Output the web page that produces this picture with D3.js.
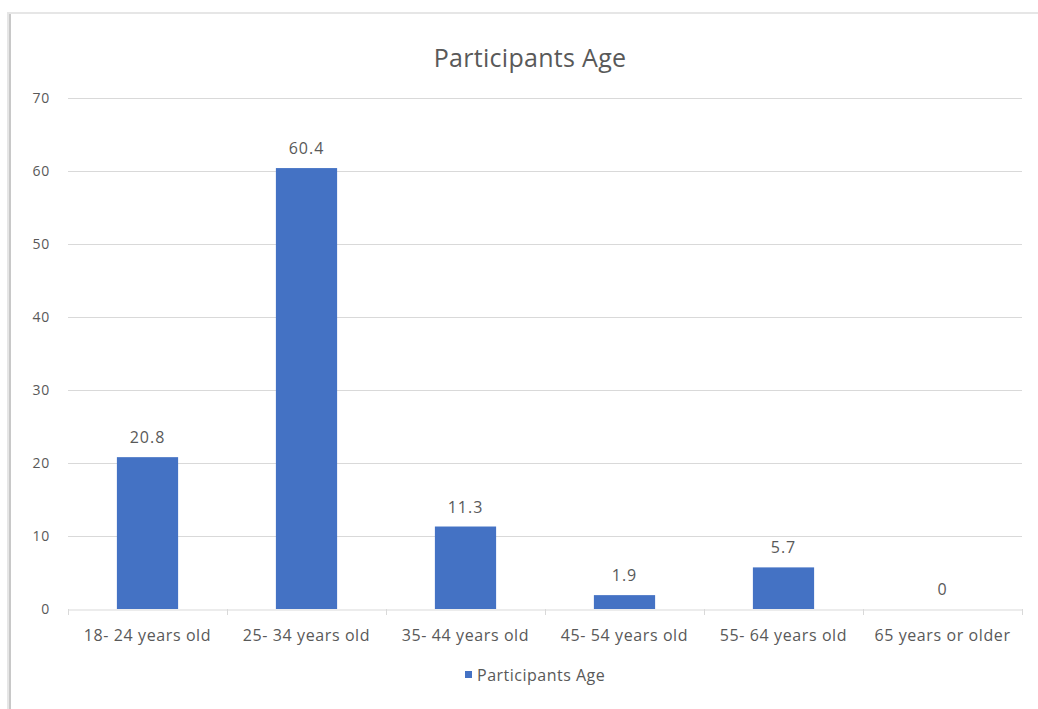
<!DOCTYPE html>
<html>
<head>
<meta charset="utf-8">
<script src="https://cdn.jsdelivr.net/npm/d3@7"></script>
<style>
  html, body { margin: 0; padding: 0; background: #fff; }
  svg { display: block; }
</style>
</head>
<body>
<svg id="chart" width="1038" height="709"></svg>
<script>
// Age distribution of participants (percent)
const categories = ["18- 24 years old", "25- 34 years old", "35- 44 years old",
                    "45- 54 years old", "55- 64 years old", "65 years or older"];
const values = [20.8, 60.4, 11.3, 1.9, 5.7, 0];
const yTicks = [0, 10, 20, 30, 40, 50, 60, 70];
const seriesName = "Participants Age";
const chartTitle = "Participants Age";

const font = "'Open Sans', Lato, sans-serif";
const textColor = "#595959";
const barColor = "#4472C4";
const gridColor = "#d9d9d9";

const svg = d3.select("#chart");

// chart frame with a soft shadow along the left and top edges
svg.append("rect")
  .attr("x", 8).attr("y", 13).attr("width", 1040).attr("height", 710)
  .attr("fill", "none").attr("stroke", "#e6e6e6").attr("stroke-width", 2);
svg.append("line")
  .attr("x1", 10).attr("x2", 10).attr("y1", 14).attr("y2", 709)
  .attr("stroke", "#c8c8c8").attr("stroke-width", 2);

const plot = { left: 68, right: 1022, top: 98, bottom: 609 };

const x = d3.scaleBand()
  .domain(categories)
  .range([plot.left, plot.right])
  .paddingInner(0.615)
  .paddingOuter(0.3075);

const xOuter = d3.scaleBand()
  .domain(categories)
  .range([plot.left, plot.right]);

const y = d3.scaleLinear()
  .domain([0, 70])
  .range([plot.bottom, plot.top]);

// horizontal gridlines
svg.append("g")
  .selectAll("line")
  .data(yTicks.filter(d => d > 0))
  .join("line")
  .attr("x1", plot.left).attr("x2", plot.right)
  .attr("y1", d => y(d) + 0.5).attr("y2", d => y(d) + 0.5)
  .attr("stroke", gridColor).attr("stroke-width", 1);

// y-axis labels
svg.append("g")
  .selectAll("text")
  .data(yTicks)
  .join("text")
  .attr("x", 50)
  .attr("y", d => y(d))
  .attr("dy", "0.35em")
  .attr("text-anchor", "end")
  .attr("font-family", font)
  .attr("font-size", 14)
  .attr("letter-spacing", 0.8)
  .attr("fill", textColor)
  .text(d => d);

// bars
svg.append("g")
  .selectAll("rect")
  .data(values)
  .join("rect")
  .attr("x", (d, i) => x(categories[i]))
  .attr("width", x.bandwidth())
  .attr("y", d => y(d))
  .attr("height", d => y(0) - y(d))
  .attr("fill", barColor);

// x axis baseline with category separator ticks
const xAxis = d3.axisBottom(xOuter).tickSize(0).tickFormat("");
const gx = svg.append("g")
  .attr("transform", `translate(0,${plot.bottom + 0.5})`)
  .call(xAxis);
gx.select(".domain").attr("stroke", gridColor);
svg.append("g")
  .selectAll("line")
  .data(categories.map(c => xOuter(c)).concat([plot.right]))
  .join("line")
  .attr("x1", d => d + 0.5).attr("x2", d => d + 0.5)
  .attr("y1", plot.bottom).attr("y2", plot.bottom + 6)
  .attr("stroke", gridColor);

// category labels
svg.append("g")
  .selectAll("text")
  .data(categories)
  .join("text")
  .attr("x", d => xOuter(d) + xOuter.bandwidth() / 2)
  .attr("y", 641)
  .attr("text-anchor", "middle")
  .attr("font-family", font)
  .attr("font-size", 16)
  .attr("letter-spacing", 0.6)
  .attr("fill", textColor)
  .text(d => d);

// value labels above bars
svg.append("g")
  .selectAll("text")
  .data(values)
  .join("text")
  .attr("x", (d, i) => x(categories[i]) + x.bandwidth() / 2)
  .attr("y", d => y(d) - 14)
  .attr("text-anchor", "middle")
  .attr("font-family", font)
  .attr("font-size", 16)
  .attr("letter-spacing", 1)
  .attr("fill", textColor)
  .text(d => d);

// title
svg.append("text")
  .attr("x", 530)
  .attr("y", 67)
  .attr("text-anchor", "middle")
  .attr("font-family", font)
  .attr("font-size", 25)
  .attr("letter-spacing", 0.3)
  .attr("fill", textColor)
  .text(chartTitle);

// legend
const legend = svg.append("g").attr("transform", "translate(465,675)");
legend.append("rect")
  .attr("x", 0).attr("y", -4).attr("width", 7).attr("height", 7)
  .attr("fill", barColor);
legend.append("text")
  .attr("x", 12).attr("y", 0)
  .attr("dy", "0.35em")
  .attr("font-family", font)
  .attr("font-size", 16)
  .attr("letter-spacing", 0.5)
  .attr("fill", textColor)
  .text(seriesName);
</script>
</body>
</html>
